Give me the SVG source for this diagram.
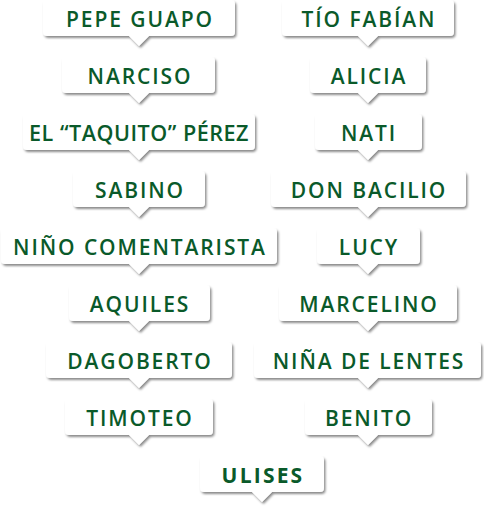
<svg xmlns="http://www.w3.org/2000/svg" width="484" height="507" viewBox="0 0 484 507">
<defs>
<filter id="sh" x="-10%" y="-30%" width="125%" height="170%">
<feDropShadow dx="1.5" dy="2" stdDeviation="1.3" flood-color="#000" flood-opacity="0.45"/>
</filter>
</defs>
<style>
.b{fill:#fff;filter:url(#sh)}
.t{font-family:"Open Sans","Liberation Sans",sans-serif;font-weight:600;font-size:21px;letter-spacing:1.9px;fill:#0a5a2a;text-anchor:middle}
.u{font-weight:700;letter-spacing:2.2px}
</style>
<rect width="484" height="507" fill="#fff"/>
<g id="connectors"/>
<g id="pepe"><path class="b" d="M47,0H231Q235,0 235,4V32Q235,36 231,36H149L139,46L129,36H47Q43,36 43,32V4Q43,0 47,0Z"/><text class="t" x="140" y="26.5">PEPE GUAPO</text></g>
<g id="tio"><path class="b" d="M286,0H450Q454,0 454,4V32Q454,36 450,36H378L368,46L358,36H286Q282,36 282,32V4Q282,0 286,0Z"/><text class="t" x="369" y="26.5">TÍO FABÍAN</text></g>
<g id="narciso"><path class="b" d="M66,57H211Q215,57 215,61V89Q215,93 211,93H149L139,103L129,93H66Q62,93 62,89V61Q62,57 66,57Z"/><text class="t" x="140" y="83.5">NARCISO</text></g>
<g id="alicia"><path class="b" d="M314,57H422Q426,57 426,61V89Q426,93 422,93H378L368,103L358,93H314Q310,93 310,89V61Q310,57 314,57Z"/><text class="t" x="369" y="83.5">ALICIA</text></g>
<g id="taquito"><path class="b" d="M27,114H251Q255,114 255,118V146Q255,150 251,150H149L139,160L129,150H27Q23,150 23,146V118Q23,114 27,114Z"/><text class="t" x="139" y="140.5" style="letter-spacing:0.5px" textLength="220" lengthAdjust="spacingAndGlyphs">EL “TAQUITO” PÉREZ</text></g>
<g id="nati"><path class="b" d="M319,114H418Q422,114 422,118V146Q422,150 418,150H378L368,160L358,150H319Q315,150 315,146V118Q315,114 319,114Z"/><text class="t" x="369" y="140.5">NATI</text></g>
<g id="sabino"><path class="b" d="M77,171H201Q205,171 205,175V203Q205,207 201,207H149L139,217L129,207H77Q73,207 73,203V175Q73,171 77,171Z"/><text class="t" x="140" y="197.5">SABINO</text></g>
<g id="bacilio"><path class="b" d="M275,171H462Q466,171 466,175V203Q466,207 462,207H378L368,217L358,207H275Q271,207 271,203V175Q271,171 275,171Z"/><text class="t" x="369" y="197.5">DON BACILIO</text></g>
<g id="nino"><path class="b" d="M5,228H273Q277,228 277,232V260Q277,264 273,264H149L139,274L129,264H5Q1,264 1,260V232Q1,228 5,228Z"/><text class="t" x="140" y="254.5">NIÑO COMENTARISTA</text></g>
<g id="lucy"><path class="b" d="M321,228H416Q420,228 420,232V260Q420,264 416,264H378L368,274L358,264H321Q317,264 317,260V232Q317,228 321,228Z"/><text class="t" x="369" y="254.5">LUCY</text></g>
<g id="aquiles"><path class="b" d="M73,285H206Q210,285 210,289V317Q210,321 206,321H149L139,331L129,321H73Q69,321 69,317V289Q69,285 73,285Z"/><text class="t" x="140" y="311.5">AQUILES</text></g>
<g id="marcelino"><path class="b" d="M283,285H453Q457,285 457,289V317Q457,321 453,321H378L368,331L358,321H283Q279,321 279,317V289Q279,285 283,285Z"/><text class="t" x="369" y="311.5">MARCELINO</text></g>
<g id="dagoberto"><path class="b" d="M50,342H228Q232,342 232,346V374Q232,378 228,378H149L139,388L129,378H50Q46,378 46,374V346Q46,342 50,342Z"/><text class="t" x="140" y="368.5">DAGOBERTO</text></g>
<g id="nina"><path class="b" d="M258,342H477Q481,342 481,346V374Q481,378 477,378H378L368,388L358,378H258Q254,378 254,374V346Q254,342 258,342Z"/><text class="t" x="369" y="368.5">NIÑA DE LENTES</text></g>
<g id="timoteo"><path class="b" d="M69,399H209Q213,399 213,403V431Q213,435 209,435H149L139,445L129,435H69Q65,435 65,431V403Q65,399 69,399Z"/><text class="t" x="140" y="425.5">TIMOTEO</text></g>
<g id="benito"><path class="b" d="M309,399H428Q432,399 432,403V431Q432,435 428,435H378L368,445L358,435H309Q305,435 305,431V403Q305,399 309,399Z"/><text class="t" x="369" y="425.5">BENITO</text></g>
<g id="ulises"><path class="b" d="M204,456H320Q324,456 324,460V488Q324,492 320,492H272L262,502L252,492H204Q200,492 200,488V460Q200,456 204,456Z"/><text class="t u" x="263" y="482.5">ULISES</text></g>
</svg>
